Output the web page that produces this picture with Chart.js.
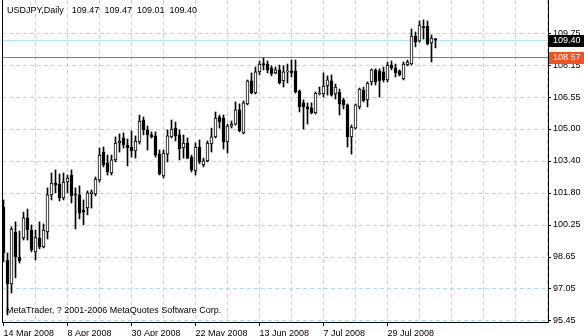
<!DOCTYPE html>
<html>
<head>
<meta charset="utf-8">
<script src="https://cdn.jsdelivr.net/npm/chart.js@4.4.1/dist/chart.umd.min.js"></script>
<style>
  html, body { margin: 0; padding: 0; background: #fff; }
  canvas { display: block; }
</style>
</head>
<body>
<canvas id="chart" width="584" height="336"></canvas>
<script>
var symbol_title = 'USDJPY,Daily';
var last_ohlc = ['109.47', '109.47', '109.01', '109.40'];
var copyright_text = 'MetaTrader, ? 2001-2006 MetaQuotes Software Corp.';

// one label every 16 bars, first bar = 14 Mar 2008
var date_labels = ['14 Mar 2008', '8 Apr 2008', '30 Apr 2008', '22 May 2008', '13 Jun 2008', '7 Jul 2008', '29 Jul 2008'];
var date_every = 16;
var grid_every = 8;

var y_tick_labels = ['95.45', '97.05', '98.65', '100.25', '101.80', '103.40', '105.00', '106.55', '108.15', '109.75'];
var y_tick_first = 95.45;
var y_tick_last = 109.75;

var bid_price = 109.40;
var line_price = 108.57;

var open = [101.11, 98.48, 97.29, 99.87, 98.63, 99.57, 100.57, 99.97, 98.88, 99.57,
  99.13, 99.87, 101.71, 102.30, 102.25, 101.56, 102.35, 102.70, 101.76, 101.71,
  100.96, 101.06, 101.76, 101.76, 102.45, 103.84, 103.30, 102.80, 103.45, 104.29,
  104.54, 104.19, 104.09, 103.89, 104.34, 105.43, 104.94, 104.69, 104.64, 103.74,
  102.65, 103.74, 104.59, 105.03, 104.69, 104.04, 104.29, 103.59, 102.90, 104.09,
  103.20, 103.40, 104.24, 104.59, 105.58, 105.53, 104.34, 105.13, 105.23, 105.93,
  104.79, 106.23, 107.37, 106.77, 107.82, 108.21, 108.21, 108.02, 107.77, 107.92,
  107.37, 107.82, 107.87, 107.87, 106.87, 106.28, 106.08, 106.03, 105.78, 106.72,
  106.72, 107.12, 107.37, 106.72, 106.82, 106.43, 106.18, 104.59, 105.03, 106.08,
  106.92, 106.43, 107.32, 107.92, 107.87, 107.82, 107.42, 108.16, 108.02, 107.87,
  107.47, 108.16, 108.21, 109.60, 109.35, 110.05, 110.10, 109.26, 109.47];

var high = [101.46, 98.83, 100.12, 100.37, 99.92, 100.86, 101.01, 100.22, 99.97, 100.37,
  100.27, 102.06, 102.80, 102.95, 102.75, 102.80, 102.70, 102.95, 102.06, 102.16,
  101.46, 101.91, 101.96, 102.60, 104.04, 104.09, 103.69, 103.69, 104.59, 104.74,
  104.79, 104.49, 104.89, 104.64, 105.68, 105.58, 105.13, 104.84, 104.84, 103.94,
  103.94, 104.94, 105.43, 105.33, 104.94, 104.69, 104.54, 103.69, 104.29, 104.44,
  103.54, 104.39, 105.03, 105.83, 105.68, 105.68, 105.23, 105.38, 106.33, 106.23,
  106.38, 107.42, 107.77, 108.06, 108.36, 108.51, 108.36, 108.12, 108.06, 108.16,
  108.12, 108.21, 108.41, 108.41, 106.92, 106.43, 106.28, 106.28, 106.82, 107.07,
  107.77, 107.62, 107.67, 107.22, 106.97, 106.52, 106.23, 105.18, 106.23, 107.02,
  107.07, 107.32, 107.97, 107.97, 107.97, 108.06, 108.31, 108.36, 108.21, 107.92,
  108.31, 108.41, 109.95, 109.80, 110.35, 110.40, 110.35, 109.65, 109.47];

var low = [98.38, 95.75, 96.84, 97.59, 98.33, 99.47, 99.47, 98.88, 98.48, 99.03,
  99.08, 99.52, 101.46, 101.81, 101.41, 101.46, 101.81, 101.31, 100.02, 100.52,
  100.22, 100.72, 101.06, 101.66, 102.35, 103.10, 102.70, 102.70, 103.35, 103.84,
  104.04, 103.15, 103.59, 103.54, 104.24, 104.69, 103.94, 104.54, 103.59, 102.70,
  102.55, 103.35, 104.54, 104.39, 103.45, 103.54, 103.50, 102.85, 102.70, 103.25,
  103.10, 103.35, 103.84, 104.54, 105.03, 103.99, 103.79, 105.03, 105.18, 104.84,
  104.74, 106.18, 106.72, 106.72, 107.67, 107.92, 107.77, 107.62, 107.72, 107.22,
  107.07, 107.27, 107.57, 106.77, 105.83, 104.98, 105.23, 105.73, 105.73, 106.67,
  106.57, 106.67, 106.62, 106.47, 105.68, 105.98, 104.09, 103.74, 104.98, 105.98,
  106.33, 106.08, 107.17, 107.17, 106.57, 107.32, 107.32, 107.92, 107.57, 107.62,
  107.42, 108.12, 108.16, 109.06, 109.30, 109.45, 109.16, 108.31, 109.01];

var close = [98.83, 97.29, 100.02, 98.63, 98.43, 100.57, 99.97, 98.98, 99.62, 99.13,
  99.97, 101.71, 102.30, 102.20, 101.56, 102.35, 102.55, 101.66, 101.71, 100.81,
  100.86, 101.81, 101.86, 102.50, 103.69, 103.20, 102.85, 103.45, 104.29, 104.39,
  104.19, 104.04, 103.89, 104.39, 105.38, 104.94, 104.69, 104.59, 103.69, 102.75,
  103.79, 104.64, 104.98, 104.64, 103.99, 104.29, 103.54, 102.95, 104.09, 103.35,
  103.40, 104.29, 104.59, 105.53, 105.33, 104.34, 105.13, 105.23, 105.93, 104.89,
  106.28, 107.37, 106.77, 107.82, 108.21, 108.18, 107.92, 107.72, 107.92, 107.27,
  107.82, 107.87, 107.77, 106.82, 106.08, 106.08, 105.98, 105.78, 106.77, 106.77,
  107.12, 107.42, 106.67, 107.07, 106.23, 106.18, 104.59, 105.08, 106.18, 106.97,
  106.38, 107.27, 107.92, 107.32, 107.37, 107.42, 108.16, 108.02, 107.77, 107.67,
  108.21, 108.31, 109.60, 109.30, 110.15, 110.02, 109.21, 109.50, 109.40];

var grid_col = 'rgb(168, 224, 224)';
var bid_col = 'rgb(170, 236, 236)';
var line_col = 'rgb(246, 80, 30)';
var font_name = 'Liberation Sans';

Chart.defaults.font.family = font_name;
Chart.defaults.font.size = 9;
Chart.defaults.color = '#000';

var body_data = [];
var wick_data = [];
for (var i = 0; i < open.length; i++) {
  body_data.push({x: i, y: [open[i], close[i]]});
  wick_data.push({x: i, y: [low[i], high[i]]});
}

var y_step = (y_tick_last - y_tick_first) / (y_tick_labels.length - 1);

var overlay = {
  id: 'overlay',
  beforeDatasetsDraw: function (chart) {
    var ctx = chart.ctx, a = chart.chartArea, ys = chart.scales.y;
    ctx.save();
    ctx.lineWidth = 1;
    [[bid_price, bid_col], [line_price, line_col]].forEach(function (p) {
      var py = Math.round(ys.getPixelForValue(p[0])) + 0.5;
      ctx.strokeStyle = p[1];
      ctx.beginPath();
      ctx.moveTo(a.left, py);
      ctx.lineTo(a.right, py);
      ctx.stroke();
    });
    ctx.restore();
  },
  afterDraw: function (chart) {
    var ctx = chart.ctx, a = chart.chartArea, ys = chart.scales.y;
    ctx.save();
    // left frame line
    ctx.strokeStyle = '#000';
    ctx.lineWidth = 1;
    ctx.beginPath();
    ctx.moveTo(a.left + 0.5, a.top);
    ctx.lineTo(a.left + 0.5, a.bottom);
    ctx.stroke();

    ctx.font = '9px "' + font_name + '"';
    ctx.textBaseline = 'middle';
    ctx.textAlign = 'left';
    ctx.fillStyle = '#000';
    var tx = a.left + 5;
    ctx.fillText(symbol_title, tx, 11);
    tx += ctx.measureText(symbol_title).width + 8;
    last_ohlc.forEach(function (v) {
      ctx.fillText(v, tx, 11);
      tx += ctx.measureText(v).width + 5;
    });
    ctx.fillText(copyright_text, a.left + 4, a.bottom - 11);

    // price labels on the right axis
    [[bid_price, '#000'], [line_price, line_col]].forEach(function (p) {
      var py = Math.round(ys.getPixelForValue(p[0]));
      ctx.fillStyle = p[1];
      ctx.fillRect(a.right + 1, py - 5, chart.width - a.right - 1, 12);
      ctx.fillStyle = '#fff';
      ctx.fillText(p[0].toFixed(2), a.right + 5, py + 1);
    });
    ctx.restore();
  }
};

var ctx = document.getElementById('chart').getContext('2d');
var chart = new Chart(ctx, {
  type: 'bar',
  data: {
    datasets: [{
      label: 'body',
      data: body_data,
      barThickness: 3,
      minBarLength: 1,
      grouped: false,
      borderWidth: 1,
      borderSkipped: false,
      borderColor: '#000',
      backgroundColor: function (c) {
        return close[c.dataIndex] > open[c.dataIndex] ? '#fff' : '#000';
      }
    }, {
      label: 'wick',
      data: wick_data,
      barThickness: 1,
      grouped: false,
      borderWidth: 0,
      backgroundColor: '#000'
    }]
  },
  options: {
    responsive: false,
    animation: false,
    devicePixelRatio: 1,
    layout: { padding: { left: 2, top: 0, right: 0, bottom: 0 } },
    plugins: { legend: { display: false }, tooltip: { enabled: false }, title: { display: false } },
    scales: {
      x: {
        type: 'linear',
        offset: false,
        min: -0.375,
        max: 136.125,
        afterBuildTicks: function (s) {
          var t = [];
          for (var v = 0; v <= 136; v += grid_every) t.push({value: v});
          s.ticks = t;
        },
        afterFit: function (s) {
          s.height = 14;
          s.paddingLeft = 0;
          s.paddingRight = 0;
        },
        ticks: {
          autoSkip: false,
          maxRotation: 0,
          align: 'start',
          padding: 2,
          color: '#000',
          callback: function (v) {
            var k = v / date_every;
            return (v % date_every === 0 && k < date_labels.length) ? date_labels[k] : '';
          }
        },
        grid: {
          offset: false,
          color: function (c) { return c.tick && c.tick.value === 0 ? 'rgba(0,0,0,0)' : grid_col; },
          tickLength: 4,
          tickColor: function (c) {
            var v = c.tick ? c.tick.value : -1;
            return (v % date_every === 0 && v / date_every < date_labels.length) ? '#000' : 'rgba(0,0,0,0)';
          },
          borderDash: [4, 3]
        },
        border: { display: true, color: '#000', width: 1, dash: [4, 3] }
      },
      y: {
        type: 'linear',
        position: 'right',
        min: 95.40,
        max: 111.39,
        afterBuildTicks: function (s) {
          s.ticks = y_tick_labels.map(function (l, k) { return {value: y_tick_first + k * y_step}; });
        },
        afterFit: function (s) {
          s.width = 36;
          s.paddingTop = 0;
          s.paddingBottom = 0;
        },
        ticks: {
          padding: 2,
          color: '#000',
          callback: function (v, k) { return y_tick_labels[k]; }
        },
        grid: {
          color: grid_col,
          tickLength: 3,
          tickColor: '#000',
          borderDash: [4, 3]
        },
        border: { display: true, color: '#000', width: 1, dash: [4, 3] }
      }
    }
  },
  plugins: [overlay]
});
</script>
</body>
</html>
